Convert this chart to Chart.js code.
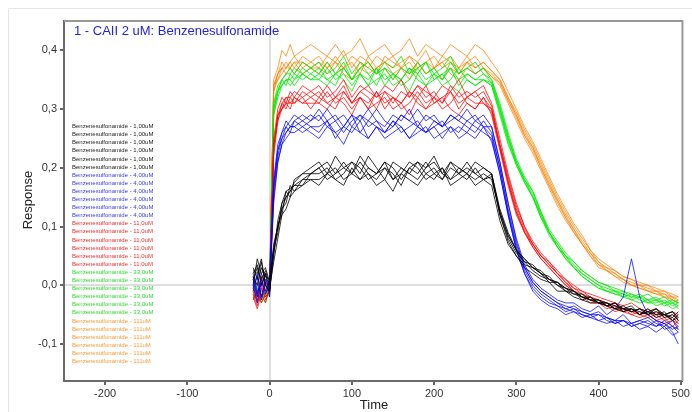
<!DOCTYPE html>
<html>
<head>
<meta charset="utf-8">
<script src="https://cdn.jsdelivr.net/npm/chart.js@4.4.1/dist/chart.umd.min.js"></script>
<style>
html,body{margin:0;padding:0;background:#fff;}
#wrap{position:relative;width:692px;height:412px;}
</style>
</head>
<body>
<div id="wrap"><canvas id="sensorgram" width="692" height="412"></canvas></div>
<script>
// time points (s)
const times = [-20,-15,-10,-5,0,5,10,15,20,25,30,
  40,50,60,70,80,90,100,110,120,130,140,150,160,170,180,190,200,210,220,230,240,250,260,
  270,280,290,300,310,320,330,340,350,360,370,380,390,400,410,420,430,440,450,460,470,480,490,497];

const xTicks = [-200,-100,0,100,200,300,400,500];
const yTicks = [-0.1,0,0.1,0.2,0.3,0.4];

const concLabels = ["1,00uM","4,00uM","11,0uM","33,0uM","111uM"];

// 1,00 uM
const black1 = [.03,.01,.04,.00,-.01,
  .05,.11,.14,.16,.15,.18,.19,.20,
  .21,.19,.22,.20,.21,.19,.22,.20,.18,.21,.20,.19,.21,.20,.22,.19,.21,.20,.19,.21,.20,
  .19,.13,.09,.06,.045,.03,.02,.015,.0,-.005,-.015,-.02,-.02,-.03,-.03,-.04,-.035,-.045,-.04,-.05,-.045,-.05,-.055,-.045];
const black2 = [.02,.035,.0,.02,-.005,
  .04,.08,.12,.13,.15,.16,.17,.18,
  .17,.19,.18,.17,.20,.18,.19,.17,.18,.16,.19,.18,.17,.19,.18,.20,.17,.18,.19,.17,.18,
  .17,.11,.07,.05,.03,.02,.01,.005,-.01,-.01,-.02,-.025,-.03,-.03,-.035,-.04,-.045,-.04,-.05,-.045,-.055,-.05,-.06,-.055];
const black3 = [.0,.045,.02,.03,.005,
  .07,.10,.13,.14,.17,.16,.18,.19,
  .20,.18,.19,.21,.19,.18,.20,.19,.21,.18,.20,.19,.18,.20,.21,.19,.18,.20,.19,.18,.19,
  .18,.125,.085,.06,.04,.035,.02,.01,.005,-.005,-.01,-.02,-.025,-.025,-.035,-.03,-.04,-.045,-.04,-.045,-.05,-.045,-.06,-.05];
const black4 = [.015,.0,.03,.015,.01,
  .06,.09,.14,.15,.16,.17,.17,.19,
  .19,.20,.18,.19,.21,.20,.18,.19,.20,.19,.17,.20,.19,.21,.19,.18,.20,.19,.18,.20,.18,
  .185,.12,.08,.055,.04,.025,.015,.01,.0,-.01,-.015,-.015,-.025,-.03,-.03,-.04,-.04,-.035,-.05,-.045,-.04,-.055,-.05,-.06];
const black5 = [.025,.02,.045,.0,-.01,
  .065,.10,.12,.16,.165,.17,.18,.18,
  .18,.19,.20,.18,.19,.21,.19,.18,.20,.18,.19,.21,.20,.18,.19,.20,.18,.19,.21,.19,.18,
  .19,.12,.075,.05,.035,.03,.02,.005,.005,-.01,-.01,-.025,-.02,-.03,-.035,-.03,-.045,-.04,-.05,-.04,-.05,-.05,-.045,-.06];
const black6 = [.01,.03,.01,.025,.0,
  .055,.10,.13,.15,.16,.175,.19,.19,
  .20,.21,.19,.20,.19,.22,.20,.19,.21,.20,.18,.20,.21,.19,.20,.18,.21,.19,.20,.19,.20,
  .19,.125,.085,.06,.045,.03,.025,.01,.005,-.005,-.01,-.02,-.025,-.025,-.03,-.035,-.04,-.04,-.045,-.05,-.04,-.05,-.045,-.055];

// 4,00 uM
const blue1 = [.01,-.02,.02,.0,-.01,
  .17,.23,.25,.27,.26,.28,.27,.28,
  .29,.27,.28,.26,.28,.29,.27,.28,.26,.27,.29,.28,.27,.26,.28,.27,.29,.28,.27,.26,.28,
  .26,.20,.13,.07,.03,.005,-.01,-.02,-.03,-.035,-.04,-.045,-.05,-.05,-.055,-.06,-.06,-.065,-.06,-.065,-.07,-.06,-.07,-.075];
const blue2 = [-.01,.015,-.025,.01,-.005,
  .15,.21,.24,.26,.27,.27,.26,.27,
  .26,.28,.25,.27,.26,.28,.25,.27,.26,.28,.27,.25,.27,.26,.27,.25,.27,.26,.28,.27,.26,
  .25,.19,.12,.06,.02,-.005,-.02,-.03,-.035,-.04,-.045,-.05,-.055,-.05,-.06,-.065,-.06,-.07,-.065,-.07,-.06,-.075,-.07,-.08];
const blue3 = [.0,-.03,.01,-.015,.0,
  .18,.24,.26,.27,.28,.29,.28,.29,
  .28,.30,.28,.29,.27,.29,.28,.30,.28,.27,.29,.28,.30,.28,.29,.27,.28,.29,.28,.29,.27,
  .27,.21,.14,.08,.035,.01,-.005,-.015,-.025,-.03,-.03,-.04,-.045,-.035,-.05,-.04,-.02,.045,-.02,-.05,-.06,-.065,-.08,-.1];
const blue4 = [.02,-.01,.0,.02,-.02,
  .16,.22,.25,.26,.27,.27,.28,.27,
  .27,.28,.26,.27,.29,.26,.28,.27,.26,.28,.26,.27,.28,.26,.27,.28,.26,.27,.26,.28,.27,
  .255,.20,.125,.065,.025,.0,-.015,-.025,-.035,-.045,-.04,-.05,-.055,-.06,-.055,-.065,-.06,-.07,-.065,-.06,-.07,-.065,-.075,-.07];
const blue5 = [-.005,.02,-.02,.005,.0,
  .14,.21,.24,.25,.26,.26,.27,.26,
  .25,.27,.26,.24,.27,.26,.25,.27,.25,.26,.27,.25,.26,.27,.25,.26,.27,.25,.26,.25,.27,
  .245,.19,.12,.06,.02,-.01,-.025,-.035,-.04,-.05,-.045,-.055,-.05,-.06,-.065,-.06,-.07,-.065,-.075,-.07,-.08,-.07,-.085,-.08];
const blue6 = [.015,-.015,.005,-.01,.01,
  .17,.23,.26,.28,.27,.28,.29,.28,
  .30,.28,.29,.27,.29,.28,.30,.28,.27,.29,.28,.30,.27,.29,.28,.27,.29,.28,.30,.28,.29,
  .27,.21,.14,.075,.03,.005,-.01,-.02,-.03,-.04,-.035,-.045,-.05,-.045,-.055,-.06,-.05,-.065,-.06,-.055,-.065,-.07,-.06,-.075];

// 11,0 uM
const red1 = [-.01,-.03,.0,-.02,-.01,
  .24,.29,.31,.30,.32,.31,.33,.32,
  .33,.31,.32,.34,.31,.33,.32,.30,.33,.32,.31,.33,.32,.34,.31,.32,.33,.31,.32,.33,.31,
  .30,.24,.18,.13,.095,.07,.05,.035,.02,.005,-.005,-.015,-.02,-.025,-.03,-.035,-.04,-.045,-.04,-.05,-.045,-.055,-.05,-.06];
const red2 = [-.02,-.04,-.015,-.03,.0,
  .22,.28,.30,.31,.30,.32,.31,.31,
  .31,.30,.32,.31,.29,.32,.30,.31,.32,.30,.31,.29,.32,.30,.31,.32,.30,.29,.31,.30,.32,
  .29,.23,.17,.12,.09,.065,.045,.03,.015,.0,-.01,-.02,-.025,-.03,-.04,-.035,-.045,-.04,-.05,-.055,-.05,-.06,-.055,-.065];
const red3 = [.0,-.02,.015,-.01,-.005,
  .25,.30,.32,.31,.33,.32,.34,.33,
  .34,.32,.33,.35,.32,.34,.33,.32,.34,.33,.35,.32,.34,.33,.32,.34,.33,.35,.32,.33,.34,
  .31,.25,.19,.14,.10,.075,.055,.04,.025,.01,.0,-.01,-.015,-.02,-.025,-.03,-.035,-.03,-.04,-.045,-.04,-.05,-.045,-.05];
const red4 = [-.015,-.035,-.005,-.025,-.01,
  .23,.29,.30,.32,.31,.31,.32,.30,
  .32,.31,.30,.33,.31,.32,.30,.33,.31,.32,.30,.31,.33,.31,.32,.30,.31,.33,.31,.30,.32,
  .30,.235,.175,.125,.09,.07,.05,.035,.02,.005,-.01,-.015,-.025,-.03,-.03,-.04,-.045,-.05,-.045,-.05,-.06,-.055,-.07,-.06];
const red5 = [-.005,-.025,-.02,.005,-.015,
  .24,.28,.31,.32,.32,.33,.32,.33,
  .32,.34,.32,.33,.31,.33,.34,.32,.33,.31,.33,.32,.34,.32,.33,.31,.34,.32,.33,.32,.33,
  .305,.24,.185,.135,.10,.07,.05,.04,.02,.01,-.005,-.01,-.02,-.025,-.035,-.03,-.04,-.045,-.05,-.04,-.055,-.05,-.06,-.065];
const red6 = [-.025,-.01,-.03,-.015,.005,
  .23,.29,.30,.31,.31,.32,.31,.32,
  .31,.33,.31,.32,.30,.32,.31,.33,.30,.32,.31,.33,.31,.30,.32,.31,.33,.30,.32,.31,.31,
  .295,.235,.175,.125,.09,.065,.045,.03,.015,.0,-.01,-.02,-.03,-.03,-.035,-.045,-.04,-.05,-.055,-.05,-.06,-.065,-.06,-.07];

// 33,0 uM
const green1 = [-.01,.0,-.02,-.01,.0,
  .30,.33,.35,.34,.36,.35,.37,.36,
  .37,.35,.36,.38,.35,.37,.36,.34,.37,.36,.35,.37,.36,.38,.35,.36,.37,.35,.36,.35,.36,
  .345,.30,.25,.21,.18,.155,.12,.09,.07,.05,.035,.02,.01,.0,-.005,-.01,-.015,-.02,-.02,-.025,-.025,-.03,-.03,-.035];
const green2 = [-.02,-.01,-.025,.0,-.015,
  .29,.32,.34,.35,.34,.35,.36,.35,
  .35,.34,.36,.35,.33,.36,.34,.35,.36,.34,.35,.33,.36,.34,.35,.36,.34,.33,.35,.34,.35,
  .34,.29,.24,.205,.175,.15,.115,.085,.065,.045,.03,.015,.005,-.005,-.01,-.015,-.02,-.025,-.03,-.025,-.035,-.03,-.04,-.035];
const green3 = [.0,-.015,-.005,-.02,-.01,
  .31,.34,.35,.36,.37,.36,.38,.37,
  .38,.36,.37,.39,.36,.38,.37,.36,.38,.37,.39,.36,.37,.38,.36,.37,.39,.36,.37,.38,.36,
  .35,.31,.26,.215,.185,.16,.125,.095,.075,.055,.04,.025,.015,.005,.0,-.005,-.01,-.015,-.02,-.015,-.025,-.02,-.03,-.025];
const green4 = [-.015,-.025,-.01,-.02,.0,
  .30,.33,.34,.35,.35,.34,.36,.35,
  .36,.35,.34,.37,.35,.36,.34,.37,.35,.36,.34,.35,.37,.35,.36,.34,.35,.37,.35,.34,.35,
  .345,.30,.25,.21,.18,.15,.12,.09,.065,.05,.03,.02,.01,.0,-.01,-.01,-.02,-.015,-.025,-.03,-.025,-.035,-.03,-.04];
const green5 = [-.005,-.02,-.03,-.01,-.02,
  .31,.33,.35,.36,.36,.37,.36,.37,
  .36,.38,.36,.37,.35,.37,.38,.36,.37,.35,.37,.36,.38,.36,.37,.35,.38,.36,.37,.36,.37,
  .35,.305,.255,.21,.18,.16,.125,.09,.07,.05,.04,.025,.015,.005,.0,-.01,-.01,-.02,-.015,-.025,-.02,-.03,-.025,-.03];
const green6 = [-.025,-.005,-.015,-.03,-.005,
  .29,.33,.34,.35,.35,.36,.35,.36,
  .35,.37,.35,.36,.34,.36,.35,.37,.34,.36,.35,.37,.35,.34,.36,.35,.37,.34,.36,.35,.35,
  .34,.295,.245,.205,.175,.15,.115,.09,.065,.045,.03,.015,.005,-.005,-.01,-.015,-.015,-.025,-.02,-.03,-.03,-.025,-.035,-.03];

// 111 uM
const orange1 = [.0,-.01,.01,-.015,.0,
  .34,.36,.38,.37,.38,.39,.37,.38,
  .39,.37,.38,.40,.37,.39,.38,.36,.39,.38,.37,.39,.38,.40,.37,.38,.39,.37,.38,.37,.38,
  .365,.35,.32,.29,.26,.235,.205,.175,.145,.12,.095,.075,.055,.035,.03,.02,.01,.005,.0,-.005,-.01,-.015,-.02,-.025];
const orange2 = [-.01,.005,-.02,.0,-.005,
  .33,.35,.37,.36,.37,.38,.36,.37,
  .37,.36,.38,.36,.35,.38,.36,.37,.38,.36,.37,.35,.38,.36,.37,.38,.36,.35,.37,.36,.37,
  .355,.34,.31,.28,.25,.225,.195,.165,.135,.11,.09,.07,.05,.03,.025,.015,.005,.0,-.005,-.01,-.015,-.02,-.025,-.03];
const orange3 = [.01,-.005,.0,.015,-.01,
  .35,.37,.40,.39,.41,.39,.40,.41,
  .40,.39,.41,.39,.40,.42,.39,.40,.41,.39,.40,.42,.39,.41,.40,.39,.41,.40,.39,.41,.40,
  .38,.36,.33,.30,.27,.245,.215,.185,.155,.13,.105,.085,.06,.045,.035,.025,.015,.01,.005,.0,-.005,-.01,-.015,-.02];
const orange4 = [-.005,-.015,.005,-.01,.005,
  .34,.36,.37,.38,.37,.38,.38,.37,
  .38,.37,.39,.37,.38,.36,.39,.37,.38,.39,.37,.38,.36,.38,.39,.37,.38,.36,.38,.39,.37,
  .36,.345,.315,.29,.255,.235,.20,.17,.145,.115,.095,.07,.055,.04,.025,.02,.01,.0,.0,-.01,-.01,-.02,-.02,-.03];
const orange5 = [.005,-.02,-.005,.005,-.015,
  .33,.36,.37,.37,.38,.37,.39,.38,
  .37,.39,.38,.37,.39,.38,.37,.39,.38,.37,.38,.39,.37,.38,.37,.39,.38,.37,.39,.37,.38,
  .365,.35,.32,.295,.265,.24,.21,.18,.15,.125,.10,.08,.06,.04,.03,.025,.015,.01,.0,.0,-.01,-.01,-.02,-.02];
const orange6 = [-.015,.0,-.01,-.005,.0,
  .34,.35,.36,.37,.37,.36,.38,.37,
  .36,.38,.36,.37,.35,.37,.38,.36,.37,.35,.37,.36,.38,.36,.37,.35,.37,.36,.38,.36,.37,
  .355,.345,.315,.285,.255,.23,.20,.17,.14,.115,.09,.07,.05,.035,.025,.015,.01,.0,-.005,-.01,-.015,-.015,-.025,-.03];

const groups = [
  {series:[black1,black2,black3,black4,black5,black6], line:'rgba(0,0,0,0.8)', text:'#222222'},
  {series:[blue1,blue2,blue3,blue4,blue5,blue6], line:'rgba(0,0,255,0.75)', text:'#3a3aff'},
  {series:[red1,red2,red3,red4,red5,red6], line:'rgba(255,0,0,0.75)', text:'#ff2a2a'},
  {series:[green1,green2,green3,green4,green5,green6], line:'rgba(0,235,0,0.8)', text:'#2ee02e'},
  {series:[orange1,orange2,orange3,orange4,orange5,orange6], line:'rgba(255,128,0,0.75)', text:'#ff9a3a'}
];

const datasets = [];
groups.forEach((g,gi)=>{
  g.series.forEach(vals=>{
    datasets.push({
      label:'Benzenesulfonamide - '+concLabels[gi],
      data:vals.map((v,i)=>({x:times[i],y:v})),
      borderColor:g.line,
      legendColor:g.text,
      borderWidth:1,
      pointRadius:0,
      tension:0,
      fill:false
    });
  });
});

const FONT = '"Liberation Sans", Arial, sans-serif';

const decor = {
  id:'decor',
  beforeDraw(chart){
    const c = chart.ctx;
    c.save();
    c.strokeStyle = '#e6e6e6';
    c.lineWidth = 1;
    c.beginPath();
    c.moveTo(8.5,412); c.lineTo(8.5,8.5); c.lineTo(692,8.5);
    c.stroke();
    c.restore();
  },
  afterDraw(chart){
    const c = chart.ctx, a = chart.chartArea;
    c.save();
    // top and right frame
    c.strokeStyle = '#999';
    c.lineWidth = 2;
    c.beginPath();
    c.moveTo(a.left, a.top); c.lineTo(a.right, a.top); c.lineTo(a.right, a.bottom);
    c.stroke();
    // title
    c.fillStyle = '#2323e6';
    c.font = '13px '+FONT;
    c.textBaseline = 'middle';
    c.textAlign = 'left';
    c.fillText('1 - CAII 2 uM: Benzenesulfonamide', 74, 31);
    // axis titles
    c.fillStyle = '#222';
    c.textAlign = 'center';
    c.fillText('Time', 374, 405);
    c.translate(28, 200);
    c.rotate(-Math.PI/2);
    c.fillText('Response', 0, 0);
    c.restore();
    // legend inside plot
    c.save();
    c.font = '6px '+FONT;
    c.textBaseline = 'middle';
    c.textAlign = 'left';
    chart.data.datasets.forEach((d,i)=>{
      c.fillStyle = d.legendColor;
      c.fillText(d.label, 72, 126.5 + i*8.1);
    });
    c.restore();
  }
};

const zeroGrid = ctx => (ctx.tick && Math.abs(ctx.tick.value) < 1e-9) ? '#dedede' : 'rgba(0,0,0,0)';

new Chart(document.getElementById('sensorgram'), {
  type:'line',
  data:{datasets:datasets},
  options:{
    responsive:false,
    animation:false,
    events:[],
    layout:{padding:{top:21,right:9,left:0,bottom:0}},
    plugins:{legend:{display:false},tooltip:{enabled:false},title:{display:false}},
    scales:{
      x:{
        type:'linear',
        min:-250, max:502,
        afterFit:s=>{s.height = 31;},
        afterBuildTicks:s=>{s.ticks = xTicks.map(v=>({value:v}));},
        ticks:{color:'#333', font:{family:FONT, size:11}, padding:2, maxRotation:0,
          callback:v=>String(v)},
        grid:{color:zeroGrid, lineWidth:2, tickColor:'#666', tickLength:4, drawTicks:true},
        border:{display:true, color:'#6a6a6a', width:2}
      },
      y:{
        type:'linear',
        min:-0.163, max:0.45,
        afterFit:s=>{s.width = 64;},
        afterBuildTicks:s=>{s.ticks = yTicks.map(v=>({value:v}));},
        ticks:{color:'#333', font:{family:FONT, size:11}, padding:3,
          callback:v=>v.toFixed(1).replace('.',',')},
        grid:{color:zeroGrid, lineWidth:2, tickColor:'#666', tickLength:4, drawTicks:true},
        border:{display:true, color:'#6a6a6a', width:2}
      }
    }
  },
  plugins:[decor]
});
</script>
</body>
</html>
